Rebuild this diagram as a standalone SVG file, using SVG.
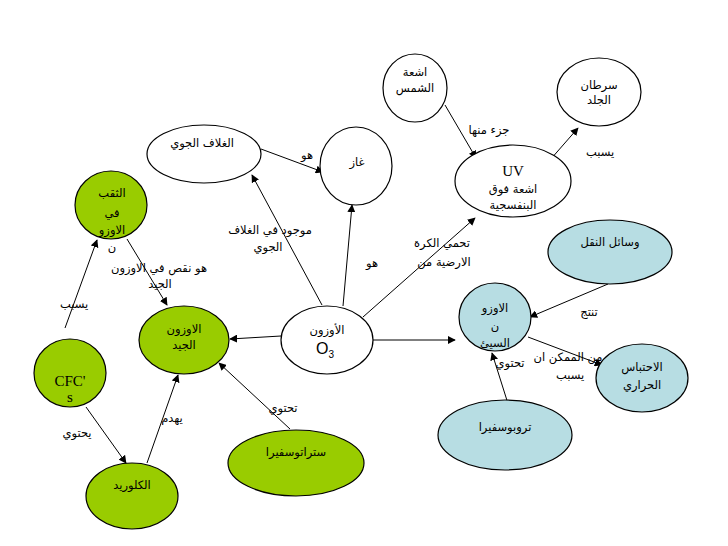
<svg xmlns="http://www.w3.org/2000/svg" width="728" height="546" viewBox="0 0 728 546">
<defs>
<marker id="ah" viewBox="0 0 10 10" refX="9" refY="5" markerWidth="8" markerHeight="8" markerUnits="userSpaceOnUse" orient="auto">
<path d="M0,0 L10,5 L0,10 z" fill="#000"/>
</marker>
<style>
.n{stroke:#000;stroke-width:1.2}
.w{fill:#fff}
.g{fill:#99cc00}
.b{fill:#b7dde3}
text{font-family:"DejaVu Sans","Liberation Sans",sans-serif;font-size:11.5px;fill:#000;text-anchor:middle}
.serif{font-family:"Liberation Serif",serif;font-size:15px}
.c line{stroke:#000;stroke-width:1;marker-end:url(#ah)}
</style>
</defs>
<rect width="728" height="546" fill="#fff"/>
<g class="c" id="connectors">
<line x1="445" y1="105" x2="476" y2="158"/>
<line x1="550" y1="160" x2="578" y2="128"/>
<line x1="261" y1="149" x2="323" y2="172"/>
<line x1="322" y1="305" x2="252" y2="175"/>
<line x1="343" y1="306" x2="352" y2="205"/>
<line x1="363" y1="317" x2="475" y2="218"/>
<line x1="373" y1="340" x2="455" y2="340"/>
<line x1="281" y1="336" x2="230" y2="339"/>
<line x1="127" y1="239" x2="167" y2="305"/>
<line x1="65" y1="328" x2="97" y2="240"/>
<line x1="86" y1="407" x2="126" y2="463"/>
<line x1="147" y1="463" x2="178" y2="375"/>
<line x1="290" y1="429" x2="219" y2="363"/>
<line x1="510" y1="410" x2="492" y2="353"/>
<line x1="608" y1="284" x2="530" y2="317"/>
<line x1="528" y1="337" x2="602" y2="365"/>
</g>
<g id="labels">
<text x="489" y="134">جزء منها</text>
<text x="600" y="156">يسبب</text>
<text x="307" y="159">هو</text>
<text x="270" y="234">موجود في الغلاف</text>
<text x="268" y="251">الجوي</text>
<text x="372" y="267">هو</text>
<text x="442" y="247">تحمي الكرة</text>
<text x="444" y="266">الارضية من</text>
<text x="159" y="272">هو نقص في الاوزون</text>
<text x="160" y="288">الجيد</text>
<text x="74" y="308">يسبب</text>
<text x="77" y="437">يحتوي</text>
<text x="172" y="422">يهدم</text>
<text x="283" y="412">تحتوي</text>
<text x="510" y="367">تحتوي</text>
<text x="589" y="316">تنتج</text>
<text x="568" y="361">من الممكن ان</text>
<text x="570" y="379">يسبب</text>
</g>
<g id="sun"><ellipse class="n w" cx="415" cy="88" rx="32" ry="34"/><text x="415" y="76">اشعة</text><text x="415" y="92">الشمس</text></g>
<g id="cancer"><ellipse class="n w" cx="599" cy="92" rx="42" ry="34"/><text x="599" y="89">سرطان</text><text x="599" y="104">الجلد</text></g>
<g id="uv"><ellipse class="n w" cx="513" cy="181" rx="58" ry="36"/><text class="serif" x="513" y="176">UV</text><text x="513" y="193">اشعة فوق</text><text x="513" y="209">البنفسجية</text></g>
<g id="atmosphere"><ellipse class="n w" cx="204" cy="154" rx="57" ry="29"/><text x="202" y="147">الغلاف الجوي</text></g>
<g id="gas"><ellipse class="n w" cx="356" cy="166" rx="36" ry="39"/><text x="357" y="166">غاز</text></g>
<g id="ozone"><ellipse class="n w" cx="327" cy="340" rx="46" ry="34"/><text x="327" y="334">الأوزون</text><text x="325" y="354" style="font-family:'Liberation Sans',sans-serif;font-size:16px">O<tspan font-size="10" dy="4">3</tspan></text></g>
<g id="good-ozone"><ellipse class="n g" cx="184" cy="340" rx="45" ry="34"/><text x="184" y="333">الاوزون</text><text x="184" y="349">الجيد</text></g>
<g id="hole"><ellipse class="n g" cx="111" cy="205" rx="36" ry="34"/><text x="112" y="197">الثقب</text><text x="112" y="217">في</text><text x="112" y="234">الاوزو</text><text x="112" y="251">ن</text></g>
<g id="cfc"><ellipse class="n g" cx="70" cy="373" rx="36" ry="34"/><text class="serif" x="70" y="386">CFC'</text><text class="serif" x="70" y="402">s</text></g>
<g id="chloride"><ellipse class="n g" cx="132" cy="496" rx="46" ry="33"/><text x="132" y="489">الكلوريد</text></g>
<g id="strato"><ellipse class="n g" cx="296" cy="463" rx="68" ry="33"/><text x="296" y="456">ستراتوسفيرا</text></g>
<g id="tropo"><ellipse class="n b" cx="505" cy="435" rx="67" ry="35"/><text x="505" y="431">تروبوسفيرا</text></g>
<g id="bad-ozone"><ellipse class="n b" cx="495" cy="317" rx="36" ry="34"/><text x="495" y="312">الاوزو</text><text x="495" y="330">ن</text><text x="495" y="347">السيئ</text></g>
<g id="transport"><ellipse class="n b" cx="610" cy="252" rx="62" ry="32"/><text x="610" y="246">وسائل النقل</text></g>
<g id="greenhouse"><ellipse class="n b" cx="642" cy="378" rx="46" ry="34"/><text x="642" y="371">الاحتباس</text><text x="642" y="389">الحراري</text></g>
</svg>
